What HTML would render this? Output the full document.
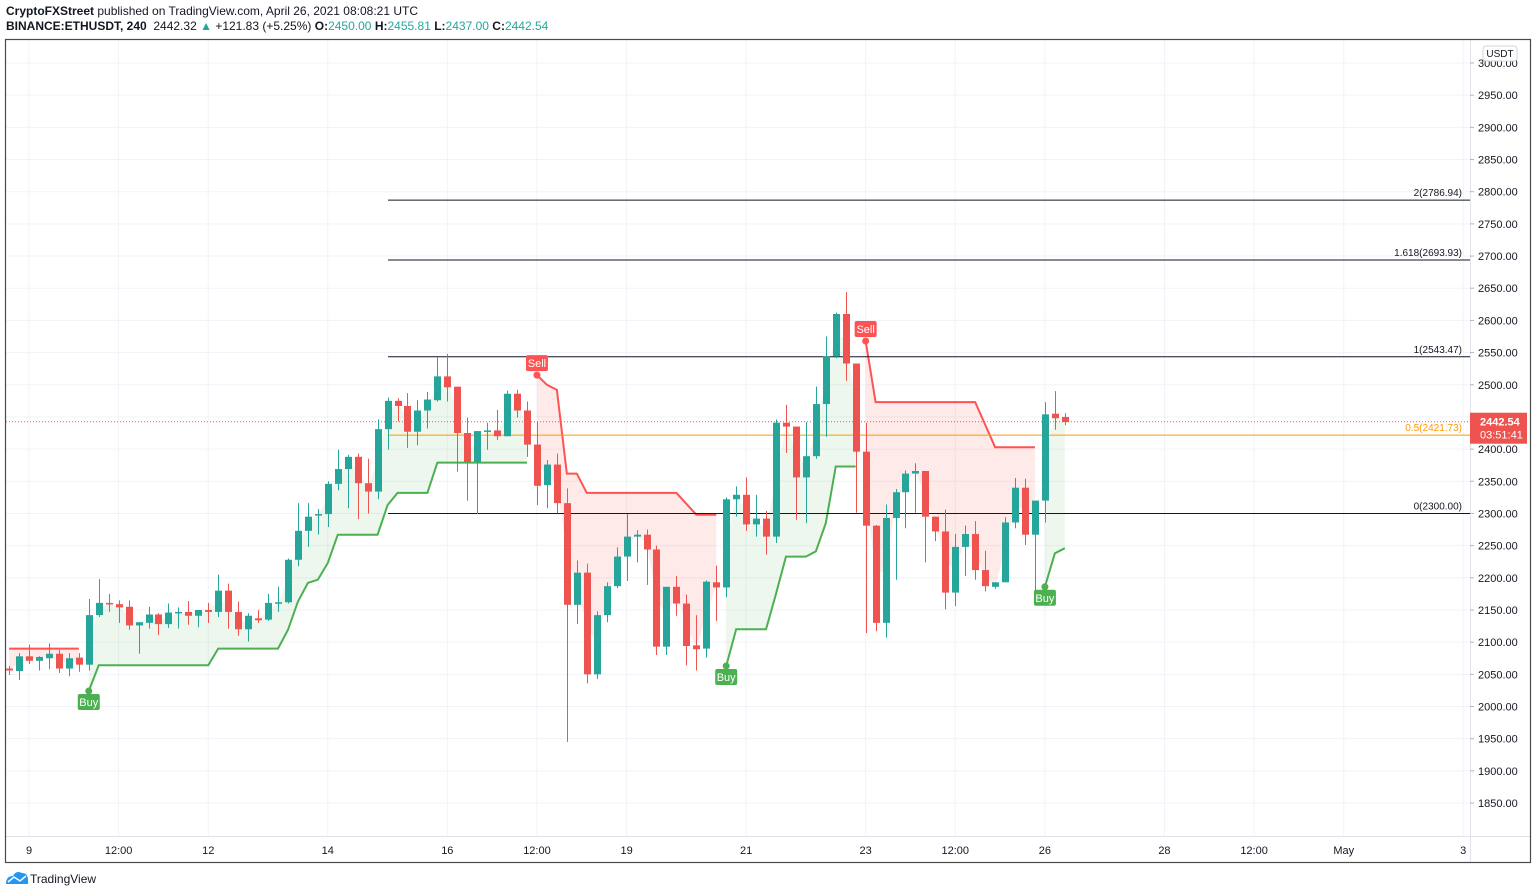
<!DOCTYPE html>
<html><head><meta charset="utf-8"><style>
html,body{margin:0;padding:0;background:#fff;width:1536px;height:895px;overflow:hidden;font-family:"Liberation Sans",sans-serif;}
.hdr{position:absolute;left:6px;font-size:12px;color:#131722;white-space:nowrap;}
.g{color:#26a69a}
</style></head><body>
<div class="hdr" style="top:4px"><b>CryptoFXStreet</b> published on TradingView.com, April 26, 2021 08:08:21 UTC</div>
<div class="hdr" style="top:19px"><b>BINANCE:ETHUSDT, 240</b>&nbsp; 2442.32 <span class="g">▲</span> +121.83 (+5.25%) <b>O:</b><span class="g">2450.00</span> <b>H:</b><span class="g">2455.81</span> <b>L:</b><span class="g">2437.00</span> <b>C:</b><span class="g">2442.54</span></div>
<svg id="chart" width="1536" height="895" style="position:absolute;left:0;top:0"></svg>
<script>
const opens=[2059,2055,2078,2071,2075,2082,2059,2076,2065,2142,2161,2159,2155,2126,2130,2143,2128,2145,2147,2141,2150,2147,2180,2147,2120,2137,2135,2160,2162,2228,2273,2297,2299,2346,2369,2388,2347,2334,2431,2475,2467,2427,2460,2476,2513,2497,2425,2380,2427,2429,2420,2486,2460,2407,2344,2376,2316,2158,2208,2050,2142,2187,2233,2264,2267,2244,2093,2186,2160,2095,2090,2193,2185,2322,2329,2283,2292,2264,2441,2435,2356,2389,2470,2544,2610,2533,2396,2281,2130,2293,2333,2362,2366,2295,2272,2177,2248,2268,2212,2186,2193,2286,2340,2267,2320,2455,2450];
const highs=[2063,2083,2096,2078,2098,2088,2083,2083,2167,2198,2175,2165,2165,2131,2155,2145,2160,2154,2164,2150,2161,2205,2191,2163,2145,2150,2175,2186,2230,2316,2316,2307,2350,2399,2391,2393,2385,2446,2480,2479,2487,2476,2489,2543,2548,2497,2449,2428,2441,2461,2491,2492,2474,2442,2383,2393,2339,2227,2222,2148,2193,2247,2299,2274,2275,2250,2186,2203,2174,2142,2196,2219,2325,2342,2356,2329,2304,2446,2469,2435,2442,2497,2575,2612,2644,2533,2441,2282,2314,2338,2367,2378,2366,2295,2306,2268,2281,2288,2242,2193,2294,2355,2354,2320,2473,2490,2456];
const lows=[2049,2041,2066,2056,2058,2052,2047,2054,2056,2139,2147,2130,2119,2082,2121,2111,2122,2121,2127,2123,2130,2139,2121,2110,2101,2130,2133,2147,2160,2218,2248,2267,2279,2336,2308,2291,2300,2322,2399,2443,2402,2406,2432,2474,2474,2365,2320,2299,2399,2414,2420,2449,2388,2313,2308,2300,1945,2128,2036,2043,2131,2184,2195,2224,2189,2080,2080,2141,2064,2056,2076,2133,2170,2295,2273,2264,2236,2254,2394,2290,2285,2385,2419,2541,2506,2301,2114,2117,2107,2197,2277,2301,2224,2257,2151,2156,2203,2197,2179,2183,2193,2277,2251,2178,2286,2430,2437];
const closes=[2056,2078,2071,2077,2082,2059,2075,2065,2142,2161,2159,2154,2126,2131,2143,2128,2146,2147,2141,2150,2147,2180,2147,2120,2141,2134,2161,2162,2228,2273,2295,2299,2346,2369,2388,2347,2334,2431,2475,2467,2427,2460,2477,2513,2496,2425,2380,2428,2429,2420,2486,2460,2407,2343,2376,2316,2158,2208,2050,2142,2187,2233,2264,2267,2244,2093,2186,2160,2094,2089,2194,2185,2322,2329,2283,2292,2264,2441,2435,2356,2389,2470,2544,2610,2533,2396,2281,2130,2293,2333,2362,2366,2295,2272,2177,2248,2268,2212,2187,2193,2286,2340,2267,2320,2454,2448,2442];
const N=null;
const stUp=[N,N,N,N,N,N,N,N,2024,2064,2064,2064,2064,2064,2064,2064,2064,2064,2064,2064,2064,2090,2090,2090,2090,2090,2090,2090,2119,2163,2192,2197,2223,2267,2267,2267,2267,2267,2313,2332,2332,2332,2332,2379,2379,2379,2379,2379,2379,2379,2379,2379,2379,N,N,N,N,N,N,N,N,N,N,N,N,N,N,N,N,N,N,N,2063,2120,2120,2120,2120,2175,2233,2233,2233,2241,2285,2373,2373,2373,N,N,N,N,N,N,N,N,N,N,N,N,N,N,N,N,N,N,2186,2238,2246];
const stDown=[2090,2090,2090,2090,2090,2090,2090,2090,N,N,N,N,N,N,N,N,N,N,N,N,N,N,N,N,N,N,N,N,N,N,N,N,N,N,N,N,N,N,N,N,N,N,N,N,N,N,N,N,N,N,N,N,N,2515,2500,2492,2362,2362,2332,2332,2332,2332,2332,2332,2332,2332,2332,2332,2315,2298,2298,2298,N,N,N,N,N,N,N,N,N,N,N,N,N,N,2568,2473,2473,2473,2473,2473,2473,2473,2473,2473,2473,2473,2438,2403,2403,2403,2403,2403,N,N,N];
const buyIdx=[8,72,104];
const sellIdx=[53,86];
const fibLabels=["2(2786.94)","1.618(2693.93)","1(2543.47)","0.5(2421.73)","0(2300.00)"];
const fibValues=[2786.94,2693.93,2543.47,2421.73,2300.00];
const priceTicks=[3000,2950,2900,2850,2800,2750,2700,2650,2600,2550,2500,2450,2400,2350,2300,2250,2200,2150,2100,2050,2000,1950,1900,1850];
const timeTickLabels=["9","12:00","12","14","16","12:00","19","21","23","12:00","26","28","12:00","May","3"];
const timeTickIdx=[2,11,20,32,44,53,62,74,86,95,104,116,125,134,146];
const lastPrice=2442.54;

const svg=document.getElementById('chart');
const NS='http://www.w3.org/2000/svg';
const PL=6,PR=1470,PT=40,PB=836;
function y(p){return 63+(3000-p)*0.6435;}
function x(i){return 29+(i-2)*9.96;}
function mk(tag,attrs,parent){const e=document.createElementNS(NS,tag);for(const k in attrs)e.setAttribute(k,attrs[k]);(parent||svg).appendChild(e);return e;}

// grid
const grid=mk('g',{});


priceTicks.forEach(p=>{mk('line',{x1:PL,x2:PR,y1:y(p),y2:y(p),stroke:'#f0f3fa','stroke-width':1},grid);});
timeTickIdx.forEach(i=>{mk('line',{x1:x(i),x2:x(i),y1:PT,y2:PB,stroke:'#f0f3fa','stroke-width':1},grid);});

// supertrend fills
function segments(arr){const segs=[];let cur=null;arr.forEach((v,i)=>{if(v!==null){if(!cur){cur=[];segs.push(cur);}cur.push(i);}else cur=null;});return segs;}
function drawST(arr,lineCol,fillCol,name){
  const g=mk('g',{});
  
  
  segments(arr).forEach(s=>{
    let pts=s.map(i=>x(i)+','+y(arr[i]).toFixed(1));
    let mids=s.slice().reverse().map(i=>x(i)+','+y((opens[i]+closes[i])/2).toFixed(1));
    const f=mk('polygon',{points:pts.concat(mids).join(' '),fill:fillCol,stroke:'none'},g);
    
    
    const l=mk('polyline',{points:pts.join(' '),fill:'none',stroke:lineCol,'stroke-width':2},g);
    
    
  });
}
drawST(stUp,'#4caf50','rgba(76,175,80,0.1)','supertrend-up');
drawST(stDown,'#ff5252','rgba(255,82,82,0.12)','supertrend-down');

// fib lines
fibValues.forEach((v,k)=>{
  const col=k===3?'#ff9800':'#131722';
  const l=mk('line',{x1:388,x2:PR,y1:y(v),y2:y(v),stroke:col,'stroke-width':1});
  
  
  const t=mk('text',{x:1462,y:y(v)-4,'text-anchor':'end','font-size':10,fill:col,'font-family':'Liberation Sans, sans-serif'});
  t.textContent=fibLabels[k];
  
  
});

// last price dotted line
const lp=mk('line',{x1:PL,x2:PR,y1:y(lastPrice),y2:y(lastPrice),stroke:'#ef5350','stroke-width':1,'stroke-dasharray':'1,2'});



// candles
const cg=mk('g',{});


opens.forEach((o,i)=>{
  const c=closes[i],col=c>=o?'#26a69a':'#ef5350';
  const g=mk('g',{},cg);
  
  
  const cx=Math.round(x(i))+0.5;
  mk('line',{x1:cx,x2:cx,y1:y(highs[i]),y2:y(lows[i]),stroke:col,'stroke-width':1},g);
  const top=y(Math.max(o,c)),bot=y(Math.min(o,c));
  mk('rect',{x:cx-3.5,y:top,width:7,height:Math.max(1.5,bot-top),fill:col},g);
});

// buy/sell markers
function marker(i,isBuy){
  const g=mk('g',{});
  
  
  const col=isBuy?'#4caf50':'#ff5252';
  const v=isBuy?stUp[i]:stDown[i];
  const cx=x(i),cy=y(v);
  mk('circle',{cx:cx,cy:cy,r:3.5,fill:col},g);
  const by=isBuy?cy+3:cy-20;
  mk('rect',{x:cx-11,y:by,width:22,height:16,rx:2,fill:col},g);
  const t=mk('text',{x:cx,y:by+12,'text-anchor':'middle','font-size':11,fill:'#fff','font-family':'Liberation Sans, sans-serif'},g);
  t.textContent=isBuy?'Buy':'Sell';
}
buyIdx.forEach(i=>marker(i,true));
sellIdx.forEach(i=>marker(i,false));

// frame
mk('line',{x1:PR+0.5,x2:PR+0.5,y1:PT,y2:862,stroke:'#e0e3eb'});
mk('line',{x1:6,x2:1530,y1:PB+0.5,y2:PB+0.5,stroke:'#e0e3eb'});
const fr=mk('rect',{x:5.5,y:39.5,width:1525,height:823,fill:'none',stroke:'#4a4a4a','stroke-width':1.2});



// price axis
const pa=mk('g',{});


priceTicks.forEach(p=>{
  mk('line',{x1:PR,x2:PR+4,y1:y(p),y2:y(p),stroke:'#b2b5be'},pa);
  const t=mk('text',{x:1478,y:y(p)+4,'font-size':11,fill:'#131722','font-family':'Liberation Sans, sans-serif'},pa);
  t.textContent=p.toFixed(2);
});
const ub=mk('g',{});


mk('rect',{x:1483,y:46,width:34,height:15,rx:3,fill:'#fff',stroke:'#d1d4dc'},ub);
const ut=mk('text',{x:1500,y:57,'text-anchor':'middle','font-size':10,fill:'#131722','font-family':'Liberation Sans, sans-serif'},ub);
ut.textContent='USDT';

// last price badge
const lb=mk('g',{});


mk('rect',{x:1470,y:y(lastPrice)-9,width:57,height:31,fill:'#ef5350'},lb);
const l1=mk('text',{x:1480,y:y(lastPrice)+4,'font-size':11,'font-weight':'bold',fill:'#fff','font-family':'Liberation Sans, sans-serif'},lb);
l1.textContent=lastPrice.toFixed(2);
const l2=mk('text',{x:1480,y:y(lastPrice)+17,'font-size':11,fill:'#fff','font-family':'Liberation Sans, sans-serif'},lb);
l2.textContent='03:51:41';

// time axis
const ta=mk('g',{});


timeTickIdx.forEach((i,k)=>{
  const t=mk('text',{x:x(i),y:854,'text-anchor':'middle','font-size':11,fill:'#131722','font-family':'Liberation Sans, sans-serif'},ta);
  t.textContent=timeTickLabels[k];
});

// logo
const lg=mk('g',{});


mk('path',{d:'M6 884 Q6 876 13 876 Q16 870 22 873 Q28 873 28 880 L28 884 Z',fill:'#2196f3'},lg);
mk('polyline',{points:'8,882 14,877 20,881 26,876',fill:'none',stroke:'#fff','stroke-width':1.5},lg);
const lt=mk('text',{x:30,y:883,'font-size':12,fill:'#131722','font-family':'Liberation Sans, sans-serif'},lg);
lt.textContent='TradingView';
</script>
</body></html>
